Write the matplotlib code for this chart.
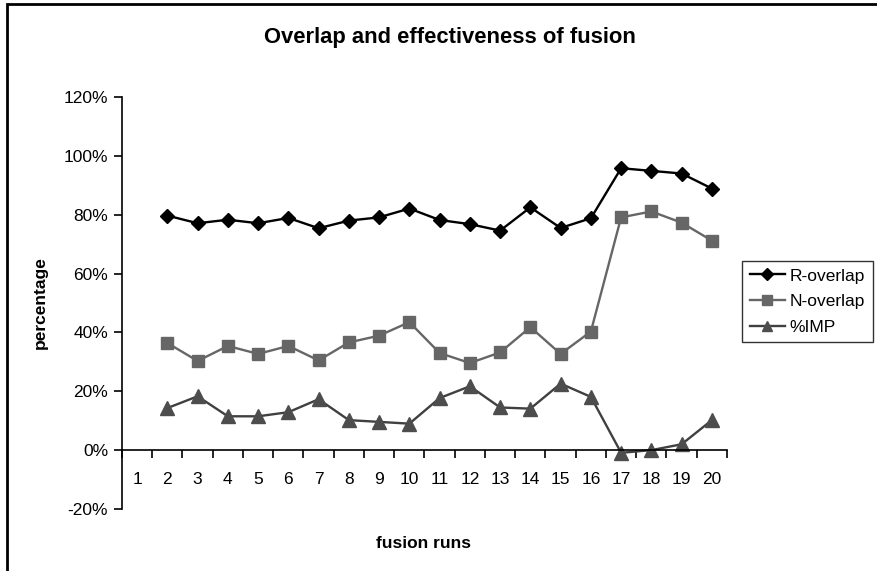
import matplotlib
matplotlib.use("Agg")
import matplotlib.pyplot as plt
from matplotlib.patches import Rectangle
from matplotlib.ticker import FuncFormatter, FixedLocator

plt.rcParams['font.family'] = ['Liberation Sans', 'DejaVu Sans']

categories = list(range(1, 21))
runs = list(range(2, 21))
r_overlap = [79.7, 77.1, 78.3, 77.1, 78.9, 75.4, 78.0, 79.1, 82.1, 78.2,
             76.8, 74.6, 82.5, 75.5, 78.8, 95.8, 94.9, 94.0, 88.9]
n_overlap = [36.4, 30.3, 35.4, 32.7, 35.4, 30.5, 36.6, 38.9, 43.5, 33.0,
             29.6, 33.2, 41.8, 32.7, 40.3, 79.1, 81.1, 77.3, 71.2]
imp = [14.3, 18.3, 11.5, 11.5, 12.9, 17.3, 10.2, 9.6, 9.0, 17.7,
       21.7, 14.5, 14.1, 22.6, 18.1, -0.9, 0.0, 2.0, 10.2]
yticks = [-20, 0, 20, 40, 60, 80, 100, 120]

W, H = 878, 571
fig = plt.figure(figsize=(W / 100, H / 100), dpi=100)
ax = fig.add_axes([122 / W, 1 - 509 / H, (727 - 122) / W, (509 - 97) / H])

ax.plot(runs, r_overlap, color='black', lw=1.7, marker='D', ms=7.5,
        mfc='black', mec='black', label='R-overlap')
ax.plot(runs, n_overlap, color='#666666', lw=1.7, marker='s', ms=8.5,
        mfc='#666666', mec='#666666', label='N-overlap')
ax.plot(runs, imp, color='#404040', lw=1.7, marker='^', ms=9.5,
        mfc='#4d4d4d', mec='#4d4d4d', label='%IMP')

ax.set_xlim(0.5, 20.5)
ax.set_ylim(-20, 120)
for s in ['top', 'right']:
    ax.spines[s].set_visible(False)
ax.spines['bottom'].set_position(('data', 0))
ax.spines['bottom'].set_linewidth(1.2)
ax.spines['left'].set_linewidth(1.2)

ax.yaxis.set_major_locator(FixedLocator(yticks))
ax.yaxis.set_major_formatter(FuncFormatter(lambda v, p: f"{int(round(v))}%"))
ax.tick_params(axis='y', direction='out', length=6, width=1.2, labelsize=12.5, pad=4)

ax.xaxis.set_major_locator(FixedLocator([c - 0.5 for c in categories] + [20.5]))
ax.xaxis.set_major_formatter(FuncFormatter(lambda v, p: ""))
ax.xaxis.set_minor_locator(FixedLocator(categories))
ax.set_xticklabels([str(c) for c in categories], minor=True)
ax.tick_params(axis='x', which='major', direction='out', length=6, width=1.2)
ax.tick_params(axis='x', which='minor', length=0, labelsize=12.5, pad=16)

fig.text(450 / W, 1 - 37 / H, 'Overlap and effectiveness of fusion',
         ha='center', va='center', fontsize=15.8, fontweight='bold')
fig.text(424 / W, 1 - 543 / H, 'fusion runs', ha='center', va='center',
         fontsize=12.5, fontweight='bold')
fig.text(40 / W, 1 - 303 / H, 'percentage', ha='center', va='center',
         fontsize=12.5, fontweight='bold', rotation=90)

leg = ax.legend(loc='center left', bbox_to_anchor=(742 / W, 1 - 301.5 / H),
                bbox_transform=fig.transFigure, frameon=True, fancybox=False,
                edgecolor='black', fontsize=12.5, handlelength=2.0,
                borderpad=0.45, labelspacing=0.6, handletextpad=0.3,
                borderaxespad=0, markerscale=0.8)
leg.get_frame().set_linewidth(1.0)

fig.patches.append(Rectangle((7.5 / W, -0.1), 1.2, 1 - 3.5 / H + 0.1,
                             transform=fig.transFigure, fill=False,
                             edgecolor='black', lw=2, zorder=10))

fig.savefig('out.png', dpi=100)
